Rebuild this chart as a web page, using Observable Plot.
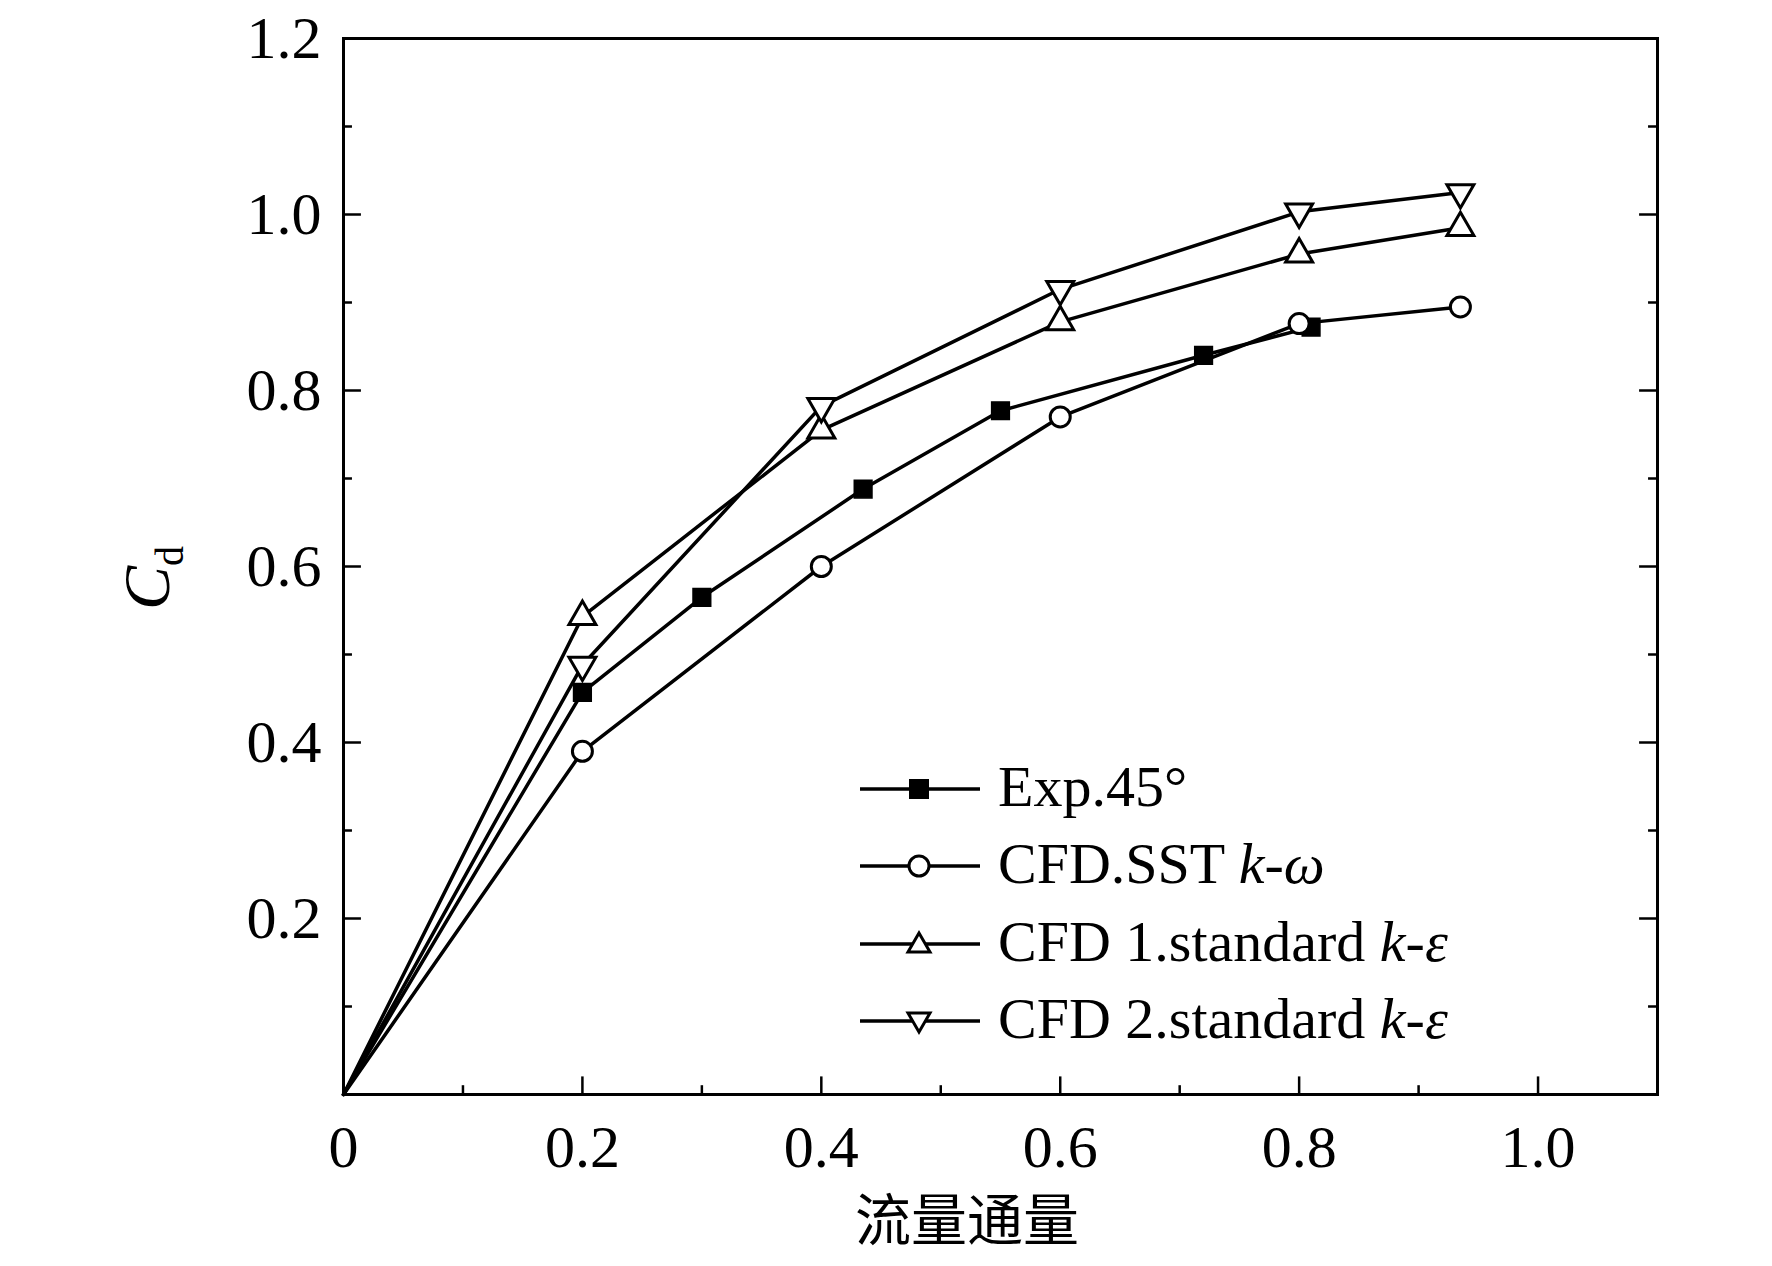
<!DOCTYPE html>
<html><head><meta charset="utf-8">
<script src="https://cdn.jsdelivr.net/npm/d3@7"></script>
<script src="https://cdn.jsdelivr.net/npm/@observablehq/plot@0.6"></script>
<style>body{margin:0;background:#fff}#wrap{position:relative;width:1772px;height:1266px}
.leg{position:absolute;font-family:"Liberation Serif",serif;font-size:58px;line-height:1;white-space:nowrap}</style>
</head><body><div id="wrap"></div>
<script>
const seriesNames=["Exp.45°","CFD.SST k-ω","CFD 1.standard k-ε","CFD 2.standard k-ε"];
const expX=[0,0.2,0.3,0.435,0.55,0.72,0.81], expY=[0,0.457,0.565,0.688,0.777,0.84,0.872];
const sstX=[0,0.2,0.4,0.6,0.8,0.935], sstY=[0,0.39,0.6,0.77,0.876,0.895];
const c1X=[0,0.2,0.4,0.6,0.8,0.935], c1Y=[0,0.543,0.755,0.878,0.955,0.985];
const c2X=[0,0.2,0.4,0.6,0.8,0.935], c2Y=[0,0.488,0.782,0.915,1.003,1.025];
const xTicks=[0,0.2,0.4,0.6,0.8,1.0], xTickLabels=["0","0.2","0.4","0.6","0.8","1.0"];
const xMinor=[0.1,0.3,0.5,0.7,0.9,1.1];
const yTicks=[0.2,0.4,0.6,0.8,1.0,1.2], yTickLabels=["0.2","0.4","0.6","0.8","1.0","1.2"];
const yMinor=[0.1,0.3,0.5,0.7,0.9,1.1];
const mk=(X,Y,s)=>X.map((x,i)=>({x,y:Y[i],s}));
const data=[...mk(expX,expY,0),...mk(sstX,sstY,1),...mk(c1X,c1Y,2),...mk(c2X,c2Y,3)];
const pts=data.filter(d=>d.x>0);
const font='"Liberation Serif",serif';
const plot=Plot.plot({
 width:1772,height:1266,marginLeft:343,marginRight:115,marginTop:38,marginBottom:172,
 style:{fontFamily:font,fontSize:"60px",background:"#fff"},
 x:{domain:[0,1.1],label:null},y:{domain:[0,1.2],label:null},
 marks:[
  Plot.frame({stroke:"#000",strokeWidth:3}),
  Plot.axisX({ticks:xTicks,tickFormat:(d,i)=>xTickLabels[i],tickSize:0,tickPadding:30,fontSize:60}),
  Plot.axisY({ticks:yTicks,tickFormat:(d,i)=>yTickLabels[i],tickSize:0,tickPadding:22,fontSize:60}),
  Plot.ruleX(xTicks.filter(d=>d>0),{y1:0,y2:0.02,stroke:"#000",strokeWidth:2.5}),
  Plot.ruleX(xMinor.filter(d=>d<1.1),{y1:0,y2:0.01,stroke:"#000",strokeWidth:2.5}),
  Plot.ruleY(yTicks.filter(d=>d<1.2),{x1:0,x2:0.015,stroke:"#000",strokeWidth:2.5}),
  Plot.ruleY(yMinor,{x1:0,x2:0.0075,stroke:"#000",strokeWidth:2.5}),
  Plot.ruleY(yTicks.filter(d=>d<1.2),{x1:1.1,x2:1.085,stroke:"#000",strokeWidth:2.5}),
  Plot.ruleY(yMinor,{x1:1.1,x2:1.0925,stroke:"#000",strokeWidth:2.5}),
  Plot.line(data,{x:"x",y:"y",z:"s",stroke:"#000",strokeWidth:3.5}),
  Plot.dot(pts.filter(d=>d.s==0),{x:"x",y:"y",symbol:"square",r:10,fill:"#000",stroke:"#000"}),
  Plot.dot(pts.filter(d=>d.s==1),{x:"x",y:"y",symbol:"circle",r:10,fill:"#fff",stroke:"#000",strokeWidth:3}),
  Plot.dot(pts.filter(d=>d.s==2),{x:"x",y:"y",symbol:"triangle",r:10,fill:"#fff",stroke:"#000",strokeWidth:3}),
  Plot.dot(pts.filter(d=>d.s==3),{x:"x",y:"y",symbol:"triangle",rotate:180,r:10,fill:"#fff",stroke:"#000",strokeWidth:3})
 ]
});
const wrap=document.getElementById("wrap");
wrap.appendChild(plot);
function addText(html,left,top,extra){const d=document.createElement("div");d.className="leg";d.style.left=left+"px";d.style.top=top+"px";if(extra)Object.assign(d.style,extra);d.innerHTML=html;wrap.appendChild(d);return d;}
addText('<i>C</i><sub style="font-size:40px">d</sub>',120,540,{fontSize:"66px",transform:"rotate(-90deg)",transformOrigin:"center"});
addText('流量通量',855,1188,{fontFamily:'"Noto Sans CJK SC",sans-serif',fontSize:"56px"});
const sym=[
 '<rect x="49" y="10" width="20" height="20" fill="#000"/>',
 '<circle cx="59" cy="20" r="10" fill="#fff" stroke="#000" stroke-width="3"/>',
 '<path d="M59,9 L70,28 L48,28 Z" fill="#fff" stroke="#000" stroke-width="3"/>',
 '<path d="M59,31 L70,12 L48,12 Z" fill="#fff" stroke="#000" stroke-width="3"/>'];
const labels=['Exp.45°','CFD.SST <i>k</i>-<i>ω</i>','CFD 1.standard <i>k</i>-<i>ε</i>','CFD 2.standard <i>k</i>-<i>ε</i>'];
const rows=[789,866,944,1021];
rows.forEach((y,i)=>{
 const s=document.createElementNS("http://www.w3.org/2000/svg","svg");
 s.setAttribute("width","120");s.setAttribute("height","40");
 s.style.position="absolute";s.style.left="860px";s.style.top=(y-20)+"px";
 s.innerHTML='<line x1="0" y1="20" x2="120" y2="20" stroke="#000" stroke-width="3.5"/>'+sym[i];
 wrap.appendChild(s);
 addText(labels[i],998,y-31);
});
</script></body></html>
